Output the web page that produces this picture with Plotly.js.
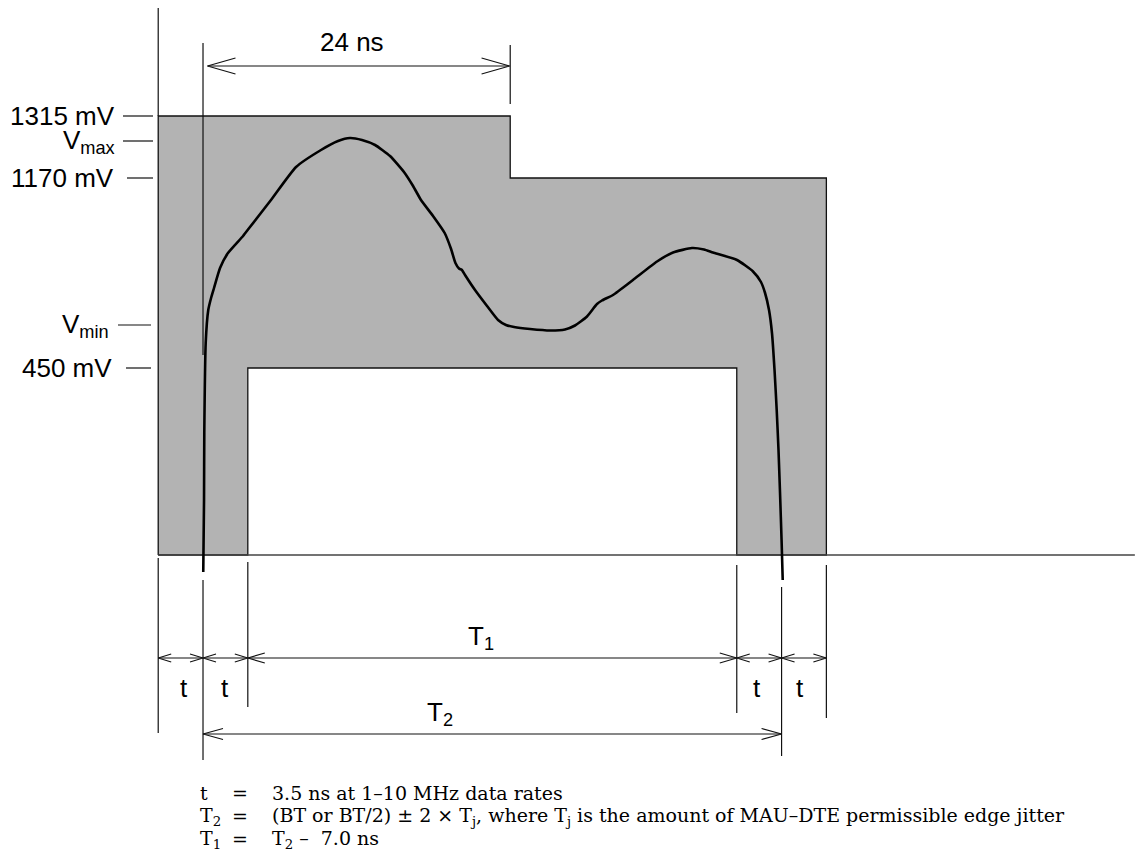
<!DOCTYPE html>
<html><head><meta charset="utf-8">
<script src="https://cdn.plot.ly/plotly-3.0.1.min.js"></script>
<style>html,body{margin:0;padding:0;background:#fff}</style>
</head><body><div id="chart" style="width:1146px;height:859px"></div>
<script>
// ---- data (time in ns, height in schematic level units above 0 V) ----
const tEdge = 3.5;          // t
const T2 = 45.2;            // T2 (bit cell)
const stepTime = 24;        // 24 ns step of the upper mask
const baselineEnd = 72.8;   // end of drawn 0 V baseline
const levelLabels = ['1315 mV', 'V<sub>max</sub>', '1170 mV', 'V<sub>min</sub>', '450 mV'];
const levelHeights = [439, 414, 377, 230, 187];
const waveT = [0.02,0.08,0.10,0.21,0.41,0.63,0.86,1.33,1.95,3.13,3.67,5.31,7.27,9.22,10.55,11.48,12.42,13.44,14.61,15.70,16.41,17.03,17.97,18.88,19.38,19.72,20.0,20.23,20.47,21.25,22.19,23.05,23.67,24.30,25.55,27.11,28.28,29.06,30.0,30.78,31.17,32.03,33.59,35.47,36.72,38.20,39.14,39.84,41.72,42.97,43.59,43.91,44.22,44.45,44.65,44.82,44.96,45.08,45.20,45.29];
const waveV = [-17,55,122,212,245,257,267,287,302,319,328,355,388,405,414,417,415,410,399,383,369,355,339,322,306,292,286.5,285,280,265,249,235,230,228,226,224.5,225.5,229.5,238.5,251,254.5,260,275,293.5,302.5,307,305.5,302.5,295,283.5,273,262,245,222,185,145,105,62,15,-25];
const spanLabels = ['t','t','T<sub>1</sub>','t','t','T<sub>2</sub>'];
const noteLabels = ['t','T<sub>2</sub>','T<sub>1</sub>'];
const noteTexts = ['3.5 ns at 1\u201310 MHz data rates',
  '(BT or BT/2) \u00b1 2 \u00d7 T<sub>j</sub>, where T<sub>j</sub> is the amount of MAU\u2013DTE permissible edge jitter',
  'T<sub>2</sub> \u2013&nbsp; 7.0 ns'];

// ---- geometry helpers (pixel <-> data) ----
const KX = 12.8, X0 = -15.86;
const px2x = p => p / KX + X0;
const py2y = p => 555 - p;
const [L1315, LVMAX, L1170, LVMIN, L450] = levelHeights;

const traces = [];
// mask polygon
const maskX = [-tEdge, -tEdge, stepTime, stepTime, T2 + tEdge, T2 + tEdge, T2 - tEdge, T2 - tEdge, tEdge, tEdge, -tEdge];
const maskY = [0, L1315, L1315, L1170, L1170, 0, 0, L450, L450, 0, 0];
traces.push({x: maskX, y: maskY, mode: 'lines', fill: 'toself', fillcolor: '#b3b3b3',
  line: {color: '#111', width: 1.3}, hoverinfo: 'skip'});
// baseline
traces.push({x: [-tEdge, baselineEnd], y: [0, 0], mode: 'lines', line: {color: '#444', width: 1.5}});

// thin guide lines
const seg = (xa, ya, xb, yb) => ({x: [xa, xb], y: [ya, yb]});
const guides = [
  seg(-tEdge, L1315, -tEdge, py2y(8)),
  seg(0, py2y(355), 0, py2y(43)),
  seg(stepTime, py2y(104), stepTime, py2y(45)),
  seg(-tEdge, py2y(558), -tEdge, py2y(733)),
  seg(0, py2y(580), 0, py2y(760)),
  seg(tEdge, py2y(562), tEdge, py2y(707)),
  seg(T2 - tEdge, py2y(565), T2 - tEdge, py2y(713)),
  seg(T2, py2y(587), T2, py2y(756)),
  seg(T2 + tEdge, py2y(565), T2 + tEdge, py2y(718)),
];
// level ticks
const tickPx = [[123,153],[123,153],[127,153],[118,151],[126,151]];
levelHeights.forEach((h, i) => guides.push(seg(px2x(tickPx[i][0]), h, px2x(tickPx[i][1]), h)));
const gx = [], gy = [];
guides.forEach(s => { gx.push(...s.x, null); gy.push(...s.y, null); });
traces.push({x: gx, y: gy, mode: 'lines', line: {color: '#111', width: 1.2}});

// arrows
function arrow(xa, xb, y, L, W) {
  const ax = [], ay = [];
  ax.push(xa, xb, null); ay.push(y, y, null);
  const l = L / KX;
  ax.push(xa + l, xa, xa + l, null); ay.push(y + W, y, y - W, null);
  ax.push(xb - l, xb, xb - l, null); ay.push(y + W, y, y - W, null);
  return {ax, ay};
}
const yT = py2y(658), yT2 = py2y(734), y24 = py2y(66);
const spans = [[-tEdge, 0, yT, 13, 4], [0, tEdge, yT, 13, 4], [tEdge, T2 - tEdge, yT, 17, 5],
  [T2 - tEdge, T2, yT, 13, 4], [T2, T2 + tEdge, yT, 13, 4], [0, T2, yT2, 20, 5.5]];
const arX = [], arY = [];
spans.forEach(s => { const a = arrow(s[0], s[1], s[2], s[3], s[4]); arX.push(...a.ax); arY.push(...a.ay); });
{ const a = arrow(0.35, stepTime - 0.05, y24, 28, 8); arX.push(...a.ax); arY.push(...a.ay); }
traces.push({x: arX, y: arY, mode: 'lines', line: {color: '#111', width: 1.1}});

// waveform
traces.push({x: waveT, y: waveV, mode: 'lines', line: {color: '#000', width: 2.6, shape: 'spline', smoothing: 0.5}});

// annotations
const sans = {family: 'Liberation Sans, Arial, sans-serif', size: 26, color: '#000'};
const serif = {family: 'DejaVu Serif, Liberation Serif, serif', size: 19, color: '#000'};
const ann = [];
const labelRightPx = [117, 117, 116, 111, 114];
levelLabels.forEach((t, i) => ann.push({x: px2x(labelRightPx[i]), y: levelHeights[i], text: t, xanchor: 'right', yanchor: 'middle',
  showarrow: false, font: sans}));
ann.push({x: px2x(352), y: py2y(42), text: '24 ns', showarrow: false, font: sans, xanchor: 'center', yanchor: 'middle'});
// span labels
const spanLabelPos = [[px2x(184), py2y(688)], [px2x(225), py2y(688)], [px2x(481), py2y(637)],
  [px2x(757), py2y(688)], [px2x(800), py2y(688)], [px2x(440), py2y(713)]];
spanLabels.forEach((t, i) => ann.push({x: spanLabelPos[i][0], y: spanLabelPos[i][1], text: t, showarrow: false, font: sans,
  xanchor: 'center', yanchor: 'middle'}));
// footnotes
const noteY = [793, 816, 839];
noteLabels.forEach((t, i) => {
  ann.push({x: px2x(198), y: py2y(noteY[i]), text: t, showarrow: false, font: serif, xanchor: 'left', yanchor: 'middle'});
  ann.push({x: px2x(240), y: py2y(noteY[i]), text: '=', showarrow: false, font: serif, xanchor: 'center', yanchor: 'middle'});
  ann.push({x: px2x(270), y: py2y(noteY[i]), text: noteTexts[i], showarrow: false, font: serif, xanchor: 'left', yanchor: 'middle'});
});

const layout = {
  width: 1146, height: 859, margin: {l: 0, r: 0, t: 0, b: 0, pad: 0},
  paper_bgcolor: '#fff', plot_bgcolor: '#fff', showlegend: false, hovermode: false,
  xaxis: {range: [X0, X0 + 1146 / KX], visible: false, fixedrange: true},
  yaxis: {range: [-304, 555], visible: false, fixedrange: true},
  annotations: ann
};
Plotly.newPlot('chart', traces, layout, {staticPlot: true, displayModeBar: false});
</script></body></html>
